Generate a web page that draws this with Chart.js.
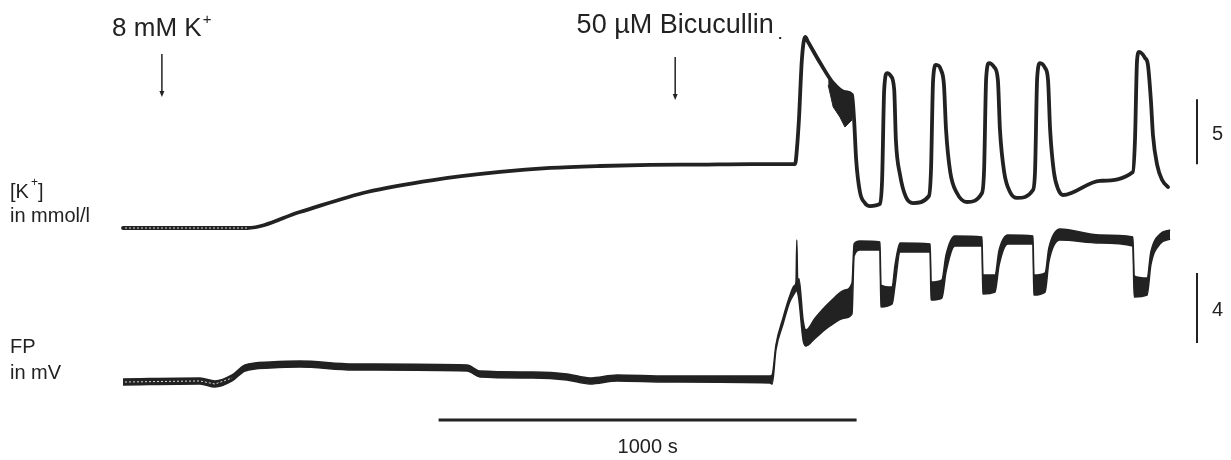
<!DOCTYPE html>
<html>
<head>
<meta charset="utf-8">
<script src="https://cdn.jsdelivr.net/npm/chart.js@4.4.1/dist/chart.umd.min.js"></script>
<style>
html,body{margin:0;padding:0;background:#fff;}
#wrap{position:relative;width:1231px;height:460px;}
</style>
</head>
<body>
<div id="wrap"><canvas id="c"></canvas></div>
<script>
// ---- Data (time in s, [K+] in mmol/l, FP in mV) ----
const kTimes = [0,297,423,584,742,902,1022,1141,1261,1380,1500,1608,1612,1617,1624,1632,1639,1668,1699,1727,1744,1749,1754,1763,1775,1787,1811,1816,1821,1828,1837,1845,1849,1859,1873,1890,1928,1933,1938,1945,1957,1964,1969,1979,1995,2019,2055,2060,2065,2072,2084,2093,2098,2108,2122,2139,2177,2182,2187,2194,2206,2213,2218,2227,2237,2249,2337,2416,2421,2426,2431,2445,2452,2459,2464,2474,2486,2500];
const kValues = [3.0,3.0,4.23,5.77,6.69,7.31,7.62,7.77,7.85,7.88,7.92,7.92,9.0,11.31,15.92,17.69,17.31,15.69,14.15,13.46,13.23,11.31,8.23,5.77,4.92,4.69,4.85,6.69,13.62,14.92,14.69,13.62,9.77,7.08,5.38,4.92,5.46,7.46,14.38,15.54,15.15,14.0,10.54,7.31,5.69,5.0,5.69,7.46,14.54,15.69,15.38,14.38,10.54,7.31,5.77,5.31,5.92,7.46,14.54,15.69,15.31,14.38,10.54,7.31,6.0,5.54,6.63,7.31,9.77,15.92,16.54,16.08,15.54,12.85,10.15,7.85,6.69,6.15];
// noisy band on the decay of the first [K+] transient
const kBandTimes = [1687,1699,1715,1727,1744];
const kBandTop = [14.75,14.15,13.75,13.46,13.23];
const kBandBottom = [14.0,12.31,11.54,10.77,11.31];

const fpTimes = [0,184,220,261,292,352,423,550,823,854,981,1062,1117,1182,1301,1548,1553,1562,1579,1595,1606,1610,1612,1614,1617,1627,1634,1656,1691,1727,1744,1749,1763,1811,1813,1840,1847,1859,1931,1933,1959,1969,1990,2055,2057,2086,2096,2117,2177,2179,2206,2215,2242,2337,2416,2419,2450,2459,2481,2505];
const fpTop = [0.17,0.23,0.06,0.40,0.97,1.14,1.20,1.03,0.97,0.63,0.57,0.46,0.23,0.40,0.34,0.34,0.40,2.11,3.66,4.91,5.50,5.70,8.11,5.80,5.90,3.54,2.97,3.66,4.57,5.26,5.66,7.89,8.06,8.00,5.54,5.43,6.69,7.94,7.89,5.71,5.83,7.26,8.34,8.29,6.11,6.11,7.54,8.40,8.34,6.11,6.23,7.66,8.74,8.40,8.29,6.06,5.94,7.43,8.46,8.69];
const fpBottom = [-0.17,-0.11,-0.29,0.06,0.63,0.80,0.86,0.69,0.63,0.29,0.23,0.11,-0.11,0.06,0.00,-0.06,-0.11,1.83,3.31,4.57,5.05,5.20,5.20,5.10,4.69,2.40,2.06,2.51,3.20,3.66,3.89,7.20,7.54,7.54,4.29,4.46,5.54,7.43,7.43,4.69,4.80,6.29,7.77,7.77,5.03,5.14,6.69,7.89,7.89,4.97,5.14,6.86,8.11,7.94,7.77,4.86,4.97,6.69,7.89,8.17];

// annotations
const stimTimes = [93, 1321];
const stimLabels = ['8 mM K', '50 \u00b5M Bicucullin'];
const timeBar = [755, 1755];          // 1000 s
const kBar = [7.9, 12.9];             // 5 mmol/l
const fpBar = [2.23, 6.23];           // 4 mV

const INK = '#222222';
const pts = (xs, ys) => xs.map((x, i) => ({x, y: ys[i]}));
const nBaseK = 2;   // flat baseline part of [K+]
const fpBaseEnd = 4;

const annot = {
  id: 'annot',
  afterDatasetsDraw(chart) {
    const ctx = chart.ctx;
    const x = chart.scales.x, yK = chart.scales.yK, yF = chart.scales.yF;
    ctx.save();
    ctx.fillStyle = INK; ctx.strokeStyle = INK;
    // light dotted core on baselines
    ctx.setLineDash([2,2]); ctx.strokeStyle = '#d8d8d8'; ctx.lineWidth = 1;
    ctx.beginPath();
    ctx.moveTo(x.getPixelForValue(kTimes[0]) + 2, yK.getPixelForValue(kValues[0]));
    ctx.lineTo(x.getPixelForValue(kTimes[nBaseK - 1]), yK.getPixelForValue(kValues[nBaseK - 1]));
    ctx.stroke();
    ctx.beginPath();
    for (let i = 0; i < fpBaseEnd; i++) {
      const px = x.getPixelForValue(fpTimes[i]);
      const py = yF.getPixelForValue((fpTop[i] + fpBottom[i]) / 2);
      if (i === 0) ctx.moveTo(px + 2, py); else ctx.lineTo(px, py);
    }
    ctx.stroke();
    ctx.setLineDash([]);
    ctx.strokeStyle = INK;

    // stimulus labels + arrows
    ctx.font = '26px "Liberation Sans", Arial, sans-serif';
    ctx.textBaseline = 'alphabetic';
    const lab0x = x.getPixelForValue(stimTimes[0]);
    ctx.textAlign = 'center';
    ctx.fillText(stimLabels[0], lab0x - 5, 36);
    const w0 = ctx.measureText(stimLabels[0]).width;
    ctx.font = '15px "Liberation Sans", Arial, sans-serif';
    ctx.textAlign = 'left';
    ctx.fillText('+', lab0x - 5 + w0 / 2 + 1, 24);
    ctx.font = '27px "Liberation Sans", Arial, sans-serif';
    ctx.textAlign = 'center';
    const lab1x = x.getPixelForValue(stimTimes[1]);
    ctx.fillText(stimLabels[1], lab1x, 33);
    ctx.fillRect(lab1x + 104, 37, 2, 2);

    const arrow = (px, y0, y1) => {
      ctx.lineWidth = 1.5;
      ctx.beginPath(); ctx.moveTo(px, y0); ctx.lineTo(px, y1 - 4); ctx.stroke();
      ctx.beginPath(); ctx.moveTo(px - 2.5, y1 - 6); ctx.lineTo(px + 2.5, y1 - 6); ctx.lineTo(px, y1); ctx.closePath(); ctx.fill();
    };
    arrow(lab0x, 54, 97);
    arrow(lab1x, 57, 100);

    // trace labels
    ctx.textAlign = 'left';
    ctx.font = '20px "Liberation Sans", Arial, sans-serif';
    ctx.fillText('[K', 10, 198);
    ctx.fillText(']', 38, 198);
    ctx.font = '12px "Liberation Sans", Arial, sans-serif';
    ctx.fillText('+', 31, 186);
    ctx.font = '20px "Liberation Sans", Arial, sans-serif';
    ctx.fillText('in mmol/l', 10, 222);
    ctx.fillText('FP', 10, 353);
    ctx.fillText('in mV', 10, 379);

    // scale bars
    ctx.lineWidth = 2;
    const bx = 1197;
    ctx.beginPath();
    ctx.moveTo(bx, yK.getPixelForValue(kBar[0])); ctx.lineTo(bx, yK.getPixelForValue(kBar[1]));
    ctx.moveTo(bx, yF.getPixelForValue(fpBar[0])); ctx.lineTo(bx, yF.getPixelForValue(fpBar[1]));
    ctx.stroke();
    ctx.fillText('5', 1212, (yK.getPixelForValue(kBar[0]) + yK.getPixelForValue(kBar[1])) / 2 + 8);
    ctx.fillText('4', 1212, (yF.getPixelForValue(fpBar[0]) + yF.getPixelForValue(fpBar[1])) / 2 + 8);

    ctx.lineWidth = 3;
    const tb0 = x.getPixelForValue(timeBar[0]), tb1 = x.getPixelForValue(timeBar[1]);
    ctx.beginPath(); ctx.moveTo(tb0, 420); ctx.lineTo(tb1, 420); ctx.stroke();
    ctx.textAlign = 'center';
    ctx.fillText((timeBar[1] - timeBar[0]) + ' s', (tb0 + tb1) / 2, 453);
    ctx.restore();
  }
};

new Chart(document.getElementById('c'), {
  type: 'line',
  data: {
    datasets: [
      { label: 'FP top', data: pts(fpTimes, fpTop), yAxisID: 'yF', borderColor: INK, borderWidth: 1.5, fill: false, cubicInterpolationMode: 'monotone' },
      { label: 'FP bottom', data: pts(fpTimes, fpBottom), yAxisID: 'yF', borderColor: INK, borderWidth: 1.5, backgroundColor: INK, fill: '-1', cubicInterpolationMode: 'monotone' },
      { label: 'K band top', data: pts(kBandTimes, kBandTop), yAxisID: 'yK', borderColor: INK, borderWidth: 1, fill: false },
      { label: 'K band bottom', data: pts(kBandTimes, kBandBottom), yAxisID: 'yK', borderColor: INK, borderWidth: 1, backgroundColor: INK, fill: '-1' },
      { label: '[K+]', data: pts(kTimes, kValues), yAxisID: 'yK', borderColor: INK, borderWidth: 3.8, fill: false, cubicInterpolationMode: 'monotone', borderJoinStyle: 'round', borderCapStyle: 'round' }
    ]
  },
  options: {
    responsive: true,
    maintainAspectRatio: false,
    animation: false,
    layout: { padding: 0 },
    elements: { point: { radius: 0, hoverRadius: 0 } },
    plugins: { legend: { display: false }, tooltip: { enabled: false } },
    events: [],
    scales: {
      x: { type: 'linear', min: -294.3, max: 2650.7, display: false },
      yK: { type: 'linear', min: -14.846, max: 20.538, display: false },
      yF: { type: 'linear', min: -4.457, max: 21.829, display: false }
    }
  },
  plugins: [annot]
});
</script>
</body>
</html>
